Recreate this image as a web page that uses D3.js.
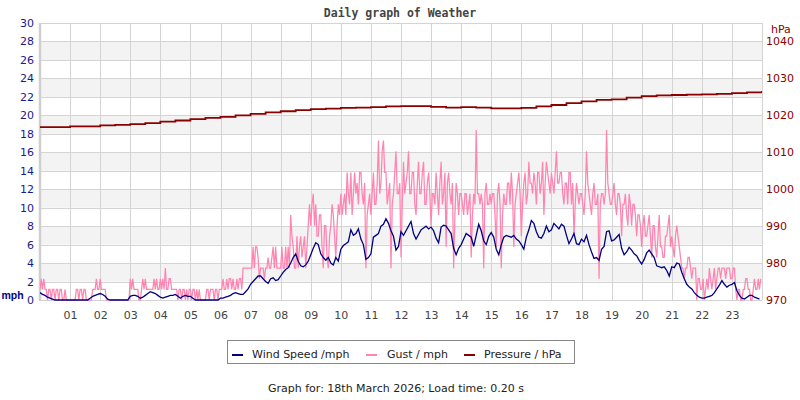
<!DOCTYPE html>
<html><head><meta charset="utf-8">
<script src="https://cdn.jsdelivr.net/npm/d3@7"></script>
<style>
body{margin:0;background:#fff;}
svg{display:block;font-family:"DejaVu Sans",sans-serif;}
</style></head>
<body>
<svg id="c" width="800" height="400"></svg>
<script>
// ---- data ----
const hourLabels = ["01","02","03","04","05","06","07","08","09","10","11","12","13","14","15","16","17","18","19","20","21","22","23"];
const leftTicks = [0,2,4,6,8,10,12,14,16,18,20,22,24,26,28,30];
const rightTicks = [970,980,990,1000,1010,1020,1030,1040];
// wind speed (mph), one value every 5 minutes from 00:00
const windSpeed = [
0.8,0.6,0.5,0.3,0.2,0.1,0,0,0,0,0,0,
0,0,0,0,0,0,0,0,0.2,0.4,0.5,0.6,
0.7,0.6,0.4,0.1,0,0,0,0,0,0,0,0,
0.4,0.5,0.5,0.4,0.2,0.3,0.5,0.7,0.9,0.8,0.7,0.5,
0.3,0.2,0.3,0.4,0.5,0.5,0.6,0.4,0.2,0.4,0.5,0.4,
0.4,0.2,0,0,0,0,0,0,0,0,0,0,
0.2,0.2,0.3,0.4,0.5,0.7,0.8,0.7,0.6,0.6,0.9,1.2,
1.7,2.0,2.3,2.6,2.6,2.3,2.0,1.8,2.3,2.4,2.1,2.2,
2.6,3.0,3.3,3.5,4.0,4.6,5.0,4.2,3.7,3.6,3.8,4.2,
4.9,5.6,6.2,6.0,5.0,4.6,4.3,4.6,4.0,3.8,4.6,4.2,
5.5,5.9,6.1,6.3,7.6,7.0,7.2,7.7,6.6,6.0,4.4,4.6,
5.0,6.8,7.0,7.2,8.0,8.2,8.8,8.3,7.5,6.9,5.4,5.8,
7.4,7.0,7.5,8.0,8.5,7.2,6.6,7.1,7.6,7.8,8.0,7.7,
7.9,7.5,6.7,6.2,7.9,8.1,8.0,7.6,7.2,5.6,4.9,5.6,
6.0,6.6,7.2,7.0,6.8,5.8,7.0,8.2,7.5,6.4,6.0,6.9,
7.3,6.8,5.5,4.9,6.0,6.8,7.0,6.9,6.8,7.0,6.6,6.4,
6.0,5.5,6.8,7.6,8.6,8.3,7.4,6.8,6.7,7.2,8.0,7.4,
7.6,8.3,8.0,7.7,8.2,8.0,7.0,6.1,6.6,7.2,6.1,6.0,
6.6,6.3,7.0,6.0,5.2,4.5,4.6,4.3,5.5,5.8,7.4,7.5,
6.4,6.5,6.8,7.1,5.6,4.9,5.2,5.7,5.4,5.0,4.8,4.3,
3.9,4.4,5.1,5.4,5.0,4.6,3.7,3.6,3.5,3.6,3.2,2.6,
3.6,3.5,4.0,3.9,3.0,2.3,1.7,1.4,1.2,0.8,0.5,0.3,
0.2,0.2,0.3,0.4,0.5,0.8,1.2,1.6,2.1,1.7,1.4,1.6,
1.7,1.9,1.0,0.5,0.2,0.1,0.3,0.5,0.5,0.3,0.2,0.1];
// gust (knots as logged), one value every 2.5 minutes from 00:00
const gustKnots = [
1,2,1,2,1,1,0,1,1,0,1,1,0,1,1,0,1,1,0,0,1,0,0,0,
0,0,0,0,0,1,1,0,1,1,0,1,1,0,0,0,0,0,1,1,1,2,1,1,
2,1,1,1,1,0,0,0,0,0,0,0,0,0,0,0,0,0,0,0,0,0,0,0,
2,1,2,1,1,1,1,0,0,1,2,1,2,1,1,1,1,1,1,2,1,2,1,1,
2,1,2,1,3,1,1,2,2,1,1,1,1,1,0,1,1,0,1,1,0,1,0,1,
1,0,1,1,0,1,0,1,0,0,0,0,0,1,1,0,1,1,1,0,1,1,0,1,
1,1,2,1,1,2,1,2,2,1,2,1,1,2,1,2,2,1,3,3,3,3,3,3,
3,3,5,3,5,5,4,2,3,3,3,2,3,3,4,3,3,4,5,3,5,3,3,3,
3,5,3,3,5,3,5,3,8,6,5,3,3,6,3,5,6,4,5,6,3,5,7,9,
7,9,10,7,9,6,6,8,8,5,3,7,7,4,3,6,7,9,8,6,4,7,9,8,
10,8,9,10,8,12,10,9,12,8,10,12,10,11,9,12,12,10,9,11,3,8,9,10,
8,10,12,9,9,11,15,10,11,14,15,12,12,9,10,11,3,9,10,12,14,10,10,11,
4,9,13,10,11,12,14,10,10,12,12,9,8,11,13,10,10,12,13,9,9,11,12,10,
7,10,10,9,12,10,8,11,13,9,10,12,5,11,12,10,9,11,3,8,11,10,8,10,
10,9,8,10,10,8,9,10,4,8,10,9,16,10,10,9,10,9,3,10,11,9,9,10,
9,10,10,8,5,10,11,9,3,8,10,9,9,11,11,9,12,10,5,9,10,11,12,10,
6,9,11,12,9,10,13,11,11,10,12,11,9,12,12,10,11,13,8,11,13,12,11,10,
12,11,10,12,14,11,11,12,12,10,9,11,11,9,12,12,9,11,6,9,11,10,9,10,
10,9,8,10,14,11,10,9,8,10,11,9,9,10,2,9,10,10,9,10,16,11,10,9,
9,10,11,9,8,10,10,9,6,9,9,10,8,7,10,9,7,9,9,8,6,8,8,7,
5,7,8,6,6,7,8,6,4,7,7,5,4,6,8,5,5,4,4,6,6,7,8,5,
6,5,4,6,7,6,5,4,3,3,2,3,3,4,4,3,2,3,3,3,0,2,2,1,
1,2,0,1,2,1,3,2,1,2,3,1,2,3,3,2,3,3,3,2,3,3,3,2,
2,3,3,1,0,1,1,0,0,1,1,2,2,1,1,0,0,1,2,1,1,2,1,2];
const MPH_PER_KNOT = 1.1508;
// pressure (hPa), one value every 30 minutes from 00:00 to 24:00
const pressure = [
1016.8,1016.8,1017.0,1017.0,1017.3,1017.4,1017.6,1017.9,1018.3,1018.6,
1019.0,1019.3,1019.6,1020.0,1020.4,1020.8,1021.1,1021.4,1021.7,1021.8,
1022.0,1022.1,1022.2,1022.4,1022.5,1022.5,1022.3,1022.1,1022.2,1022.1,
1021.9,1021.9,1022.0,1022.4,1022.8,1023.3,1023.8,1024.2,1024.3,1024.8,
1025.2,1025.4,1025.5,1025.6,1025.7,1025.8,1026.0,1026.2,1026.6];

// ---- chart ----
const svg = d3.select("#c");
const L = 40, R = 762, T = 23, B = 300;
const x = d3.scaleLinear().domain([0,24]).range([L,R]);
const yL = d3.scaleLinear().domain([0,30]).range([B,T]);
const yR = d3.scaleLinear().domain([970,1045]).range([B,T]);

svg.append("text").attr("x",400).attr("y",17).attr("text-anchor","middle")
  .style("font-family","'DejaVu Sans Mono',monospace").style("font-weight","bold")
  .style("font-size","11.5px").attr("fill","#444").text("Daily graph of Weather");

// bands
const bands = leftTicks.filter(v => v % 4 === 2 && v < 30);
svg.append("g").selectAll("rect").data(bands).join("rect")
  .attr("x",L).attr("width",R-L)
  .attr("y",d => yL(d+2)).attr("height",d => yL(d)-yL(d+2))
  .attr("fill","#f3f3f3");

// grid
svg.append("g").selectAll("line").data(leftTicks.slice(1)).join("line")
  .attr("x1",L).attr("x2",R).attr("y1",d=>Math.round(yL(d))+0.5).attr("y2",d=>Math.round(yL(d))+0.5)
  .attr("stroke","#d4d4d4");
svg.append("g").selectAll("line").data(d3.range(1,25)).join("line")
  .attr("y1",T).attr("y2",B).attr("x1",d=>Math.round(x(d))+0.5).attr("x2",d=>Math.round(x(d))+0.5)
  .attr("stroke","#d4d4d4");
svg.append("line").attr("x1",L).attr("x2",R).attr("y1",B+0.5).attr("y2",B+0.5).attr("stroke","#d4d4d4");
svg.append("line").attr("x1",L).attr("x2",L).attr("y1",T).attr("y2",B+1).attr("stroke","#cfcfcf").attr("stroke-width",2.5);

// clip
svg.append("clipPath").attr("id","clip").append("rect").attr("x",L).attr("y",T).attr("width",R-L).attr("height",B-T+1);

const plot = svg.append("g").attr("clip-path","url(#clip)");
const gustLine = d3.line().x((d,i)=>x(i*2.5/60)).y(d=>yL(d*MPH_PER_KNOT));
plot.append("path").attr("d",gustLine(gustKnots)).attr("fill","none").attr("stroke","#ff85b0").attr("stroke-width",1.25);
const windLine = d3.line().x((d,i)=>x(i*5/60)).y(d=>yL(d));
plot.append("path").attr("d",windLine(windSpeed)).attr("fill","none").attr("stroke","#000080").attr("stroke-width",1.3);
const presLine = d3.line().x((d,i)=>x(i*0.5)).y(d=>yR(d)).curve(d3.curveStepAfter);
plot.append("path").attr("d",presLine(pressure)).attr("fill","none").attr("stroke","#8b0000").attr("stroke-width",1.8);

// axes
const ax1 = svg.append("g").attr("transform",`translate(${L},0)`)
  .call(d3.axisLeft(yL).tickValues(leftTicks).tickSize(0).tickPadding(6));
ax1.select(".domain").remove();
ax1.selectAll("text").attr("fill","#1a1a8c").style("font-size","11px").style("font-family","'DejaVu Sans',sans-serif");

const ax2 = svg.append("g").attr("transform",`translate(${R},0)`)
  .call(d3.axisRight(yR).tickValues(rightTicks).tickFormat(d3.format("d")).tickSize(0).tickPadding(4));
ax2.select(".domain").remove();
ax2.selectAll("text").attr("fill","#8b0000").style("font-size","11px").style("font-family","'DejaVu Sans',sans-serif");

const ax3 = svg.append("g").attr("transform",`translate(0,${B})`)
  .call(d3.axisBottom(x).tickValues(d3.range(1,24)).tickFormat((d,i)=>hourLabels[i]).tickSize(0).tickPadding(11));
ax3.select(".domain").remove();
ax3.selectAll("text").attr("fill","#444").style("font-size","11px").style("font-family","'DejaVu Sans',sans-serif");

svg.append("text").attr("x",1.5).attr("y",299).attr("fill","#00008b").style("font-family","'Liberation Sans',sans-serif")
  .style("font-weight","bold").style("font-size","10.5px").text("mph");
svg.append("text").attr("x",771).attr("y",33).attr("fill","#8b0000").style("font-size","11px").text("hPa");

// legend
const lg = svg.append("g");
lg.append("rect").attr("x",227.5).attr("y",340.5).attr("width",347).attr("height",23).attr("fill","#fff").attr("stroke","#888");
const items = [
  {label:"Wind Speed /mph", color:"#000080", sx:232, tx:252},
  {label:"Gust / mph", color:"#ff85b0", sx:366, tx:387},
  {label:"Pressure / hPa", color:"#8b0000", sx:464, tx:484}
];
items.forEach(it=>{
  lg.append("line").attr("x1",it.sx).attr("x2",it.sx+11).attr("y1",355).attr("y2",355).attr("stroke",it.color).attr("stroke-width",2);
  lg.append("text").attr("x",it.tx).attr("y",358).attr("fill","#222").style("font-size","11px").text(it.label);
});

svg.append("text").attr("x",396).attr("y",392).attr("text-anchor","middle").attr("fill","#222").style("font-size","11px")
  .text("Graph for: 18th March 2026; Load time: 0.20 s");
</script>
</body></html>
